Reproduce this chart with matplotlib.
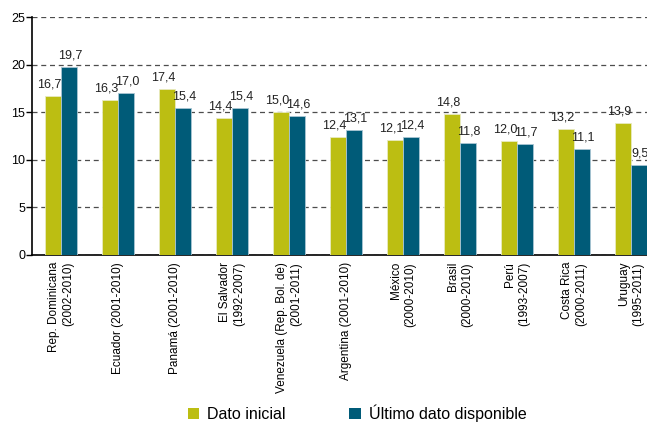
import matplotlib
matplotlib.use("Agg")
import matplotlib.pyplot as plt
import numpy as np
from matplotlib.patches import Patch

plt.rcParams['font.family'] = ['Liberation Sans', 'DejaVu Sans']

categories = [
    "Rep. Dominicana\n(2002-2010)",
    "Ecuador (2001-2010)",
    "Panamá (2001-2010)",
    "El Salvador\n(1992-2007)",
    "Venezuela (Rep. Bol. de)\n(2001-2011)",
    "Argentina (2001-2010)",
    "México\n(2000-2010)",
    "Brasil\n(2000-2010)",
    "Perú\n(1993-2007)",
    "Costa Rica\n(2000-2011)",
    "Uruguay\n(1995-2011)",
]
dato_inicial = [16.7, 16.3, 17.4, 14.4, 15.0, 12.4, 12.1, 14.8, 12.0, 13.2, 13.9]
ultimo_dato = [19.7, 17.0, 15.4, 15.4, 14.6, 13.1, 12.4, 11.8, 11.7, 11.1, 9.5]
y_ticks = [0, 5, 10, 15, 20, 25]

green = "#BCBE12"
blue = "#005B78"

fig = plt.figure(figsize=(6.47, 4.24), dpi=100)
ax = fig.add_axes([0.0495, 0.3986, 0.9505, 0.5613])

x = np.arange(len(categories))
w = 0.28
ax.bar(x - w / 2, dato_inicial, width=w, color=green, edgecolor="#E8EBC0", linewidth=0.6, zorder=3)
ax.bar(x + w / 2, ultimo_dato, width=w, color=blue, edgecolor="#A9C6D3", linewidth=0.6, zorder=3)

def fmt(v):
    return f"{v:.1f}".replace(".", ",")

for xi, v in zip(x, dato_inicial):
    ax.annotate(fmt(v), (xi - w / 2 - 0.07, v), xytext=(0, 4), textcoords="offset points",
                ha="center", va="bottom", fontsize=9, color="#222222", zorder=4)
for xi, v in zip(x, ultimo_dato):
    ax.annotate(fmt(v), (xi + w / 2 + 0.02, v), xytext=(0, 4), textcoords="offset points",
                ha="center", va="bottom", fontsize=9, color="#222222", zorder=4,
                annotation_clip=False)

ax.set_xlim(-0.51, 10.28)
ax.set_ylim(0, 25)
ax.set_yticks(y_ticks)
ax.set_yticklabels([str(t) for t in y_ticks], fontsize=9)
ax.yaxis.grid(True, linestyle=(0, (4, 3)), color="#4d4d4d", linewidth=0.9, zorder=0)
ax.set_axisbelow(True)

ax.set_xticks(x)
ax.set_xticklabels(categories, rotation=90, fontsize=8.5, va="top", ha="center", multialignment="right")
ax.tick_params(axis="x", length=0, pad=5)
ax.tick_params(axis="y", length=4, width=1, pad=1, color="black")

for s in ["top", "right"]:
    ax.spines[s].set_visible(False)
ax.spines["left"].set_linewidth(1.2)
ax.spines["bottom"].set_linewidth(1.2)

handles = [Patch(facecolor=green, edgecolor="none"), Patch(facecolor=blue, edgecolor="none")]
fig.legend(handles, ["Dato inicial", "Último dato disponible"], loc="center",
           bbox_to_anchor=(0.552, 0.025), ncol=2, frameon=False, fontsize=11.5,
           handlelength=0.72, handleheight=0.72, handletextpad=0.5, columnspacing=4.0,
           borderpad=0, borderaxespad=0)

fig.savefig("out.png", dpi=100)
